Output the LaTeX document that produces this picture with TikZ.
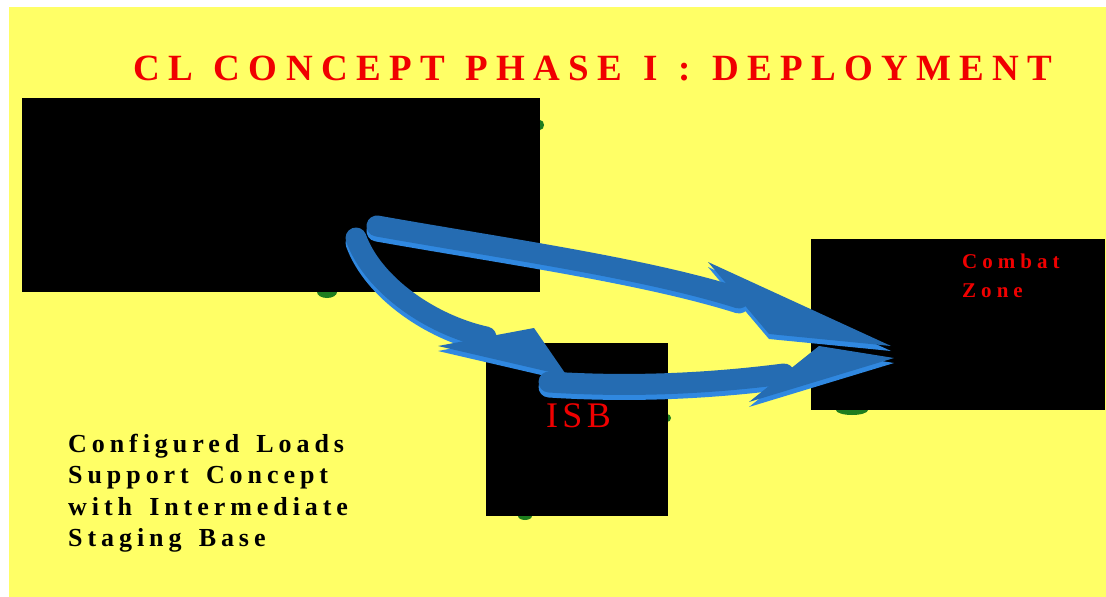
\documentclass[tikz,border=0pt]{standalone}
\usepackage{fontspec}
\setmainfont{Liberation Serif}
\newfontfamily\capfont[LetterSpace=19,WordSpace=1.5]{Liberation Serif}
\usetikzlibrary{arrows.meta,positioning}
\definecolor{clYellow}{RGB}{255,255,102}
\definecolor{clRed}{RGB}{240,0,0}
\definecolor{clBlue}{RGB}{37,108,178}
\definecolor{clBlueSide}{RGB}{48,136,224}
\definecolor{clGreen}{RGB}{30,125,30}
\newcommand\wordgap{\hspace{21pt}}
\tikzset{
    panel/.style={fill=black, draw=none, inner sep=0pt, anchor=north west},
    headline/.style={anchor=base west, inner sep=0pt, text=clRed,
                     font=\fontsize{37}{40}\selectfont\bfseries\addfontfeature{LetterSpace=22.5}},
    zonetext/.style={anchor=base west, inner sep=0pt, text=clRed,
                     font=\fontsize{21}{24}\selectfont\bfseries\addfontfeature{LetterSpace=24}},
    basetext/.style={anchor=base west, inner sep=0pt, text=clRed,
                     font=\fontsize{36}{40}\selectfont\addfontfeature{LetterSpace=12}},
    caption/.style={anchor=base west, inner sep=0pt, text=black,
                    font=\capfont\fontsize{26}{30}\selectfont\bfseries},
    scrap/.style={fill=clGreen, draw=none},
    ribbon/.style={line width=21pt, line cap=round}
}

\begin{document}
\begin{tikzpicture}[x=1pt, y=-1pt]
  \useasboundingbox (0,0) rectangle (1106,597);
  \fill[white] (0,0) rectangle (1106,597);
  \fill[clYellow] (9,7) rectangle (1106,597);

  % bits of the pictures peeking out behind the panels
  \fill[scrap] (327,292) ellipse (10 and 6);
  \fill[scrap] (540,125) ellipse (4 and 5);
  \fill[scrap] (667,418) ellipse (4 and 4);
  \fill[scrap] (525,516) ellipse (7 and 4);
  \fill[scrap] (852,410) ellipse (16 and 5);

  % panels
  \node[panel, minimum width=518, minimum height=194] (home) at (22,98) {};
  \node[panel, minimum width=182, minimum height=173] (isb) at (486,343) {};
  \node[panel, minimum width=294, minimum height=171] (zone) at (811,239) {};

  % title
  \node[headline] (title) at (133,80)
    {CL\wordgap CONCEPT\wordgap PHASE\wordgap I\wordgap :\wordgap DEPLOYMENT};

  % panel labels
  \node[basetext] (isbName) at (546,427) {ISB};
  \node[zonetext] (zoneTop) at (962,268) {Combat};
  \node[zonetext] (zoneBot) at (962,297) {Zone};

  % ends of the moves
  \coordinate (directOut) at (376,226);
  \coordinate (directNeck) at (738,298);
  \coordinate (zoneInA) at (890,346);
  \coordinate (stageOut) at (355,238);
  \coordinate (stageNeck) at (485,337);
  \coordinate (isbIn) at (566,376);
  \coordinate (isbOut) at (548,382);
  \coordinate (onwardNeck) at (783,374);
  \coordinate (zoneInB) at (893,358);

  % moves: lighter side face first, then the top face
  \foreach \col/\dy in {clBlueSide/-5, clBlue/0} {
    \begin{scope}[transform canvas={xshift=1pt, yshift=\dy pt}]
      \draw[ribbon, \col] (directOut) .. controls (500,248) and (643,268) .. (directNeck);
      \fill[\col] (707,262) -- (zoneInA) -- (768,334) -- cycle;
      \draw[ribbon, \col] (stageOut) .. controls (372,285) and (430,325) .. (stageNeck);
      \fill[\col] (437,346) -- (isbIn) -- (533,328) -- cycle;
      \draw[ribbon, \col] (isbOut) .. controls (640,388) and (720,382) .. (onwardNeck);
      \fill[\col] (818,346) -- (zoneInB) -- (748,402) -- cycle;
    \end{scope}
  }

  % caption
  \foreach \txt [count=\i from 0] in {Configured Loads, Support Concept, with Intermediate, Staging Base}
    \node[caption] (cap\i) at (68, 452+31.5*\i) {\txt};
\end{tikzpicture}
\end{document}
